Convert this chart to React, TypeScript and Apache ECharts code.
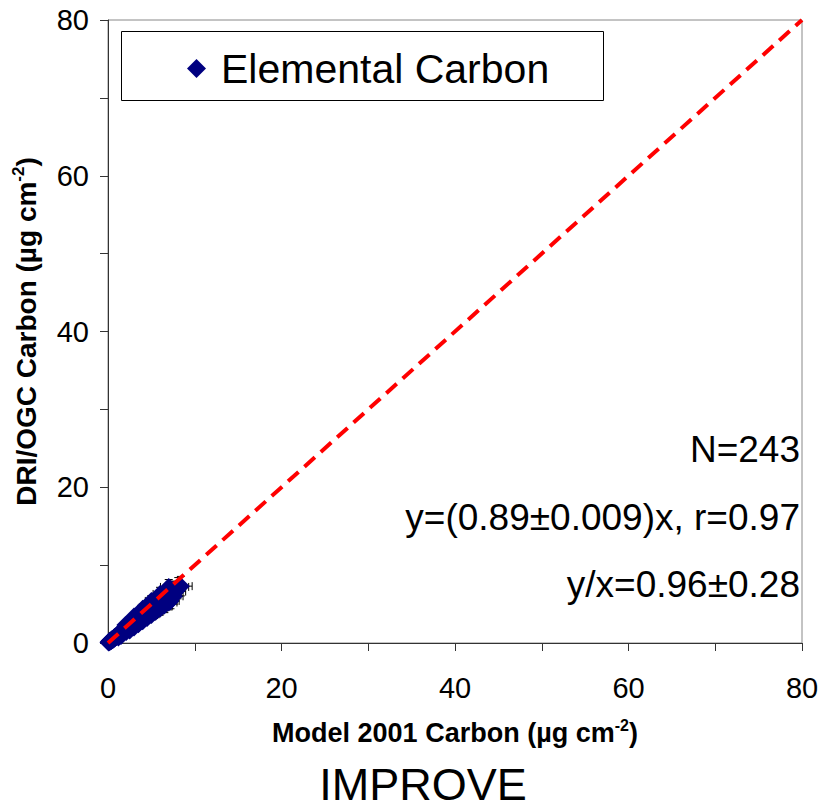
import React, { useEffect, useRef } from "react";
import * as echarts from "echarts";

const seriesName = "Elemental Carbon";
const xTitle = "Model 2001 Carbon (µg cm";
const yTitle = "DRI/OGC Carbon (µg cm";
const bottomTitle = "IMPROVE";
const statLines = ["N=243", "y=(0.89±0.009)x, r=0.97", "y/x=0.96±0.28"];
const oneToOne = [0, 80];

const ecX = [
  0.05, 0.1, 0.15, 0.2, 0.2, 0.25, 0.3, 0.35, 0.4, 0.4,
  0.45, 0.5, 0.55, 0.6, 0.6, 0.7, 0.75, 0.8, 0.85, 0.9,
  1.0, 1.0, 1.1, 1.15, 1.2, 1.3, 1.35, 1.4, 1.5, 1.55,
  1.6, 1.7, 1.8, 1.85, 1.9, 2.0, 2.1, 2.2, 2.3, 2.35,
  2.4, 2.5, 2.6, 2.7, 2.8, 2.9, 3.0, 3.1, 3.2, 3.3,
  3.4, 3.5, 3.6, 3.7, 3.8, 3.9, 4.0, 4.1, 4.3, 4.4,
  4.5, 4.6, 4.8, 4.9, 5.0, 5.2, 5.3, 5.5, 5.6, 5.8,
  5.9, 6.1, 6.2, 6.4, 6.6, 6.8, 7.0, 7.3, 7.5, 7.8, 8.1, 8.4,
  1.2, 2.1, 2.9, 3.6, 4.2, 4.7, 5.4, 6.0, 6.9, 7.6,
  1.5, 2.5, 3.0, 3.5, 4.0, 4.5, 5.0, 5.5, 6.0, 6.5, 7.0, 7.2,
  2.0, 3.0, 4.0, 5.0, 6.0, 7.0,
];
const ecY = [
  0.1, 0.05, 0.2, 0.15, 0.3, 0.2, 0.3, 0.25, 0.45, 0.3,
  0.4, 0.5, 0.4, 0.55, 0.45, 0.7, 0.55, 0.8, 0.7, 0.75,
  1.0, 0.8, 1.1, 0.9, 1.2, 1.1, 1.3, 1.05, 1.4, 1.25,
  1.5, 1.4, 1.7, 1.45, 1.8, 1.7, 1.9, 2.1, 1.9, 2.4,
  2.0, 2.3, 2.6, 2.2, 2.5, 2.8, 2.4, 2.9, 2.6, 3.2,
  2.8, 3.3, 3.0, 3.5, 3.2, 3.7, 3.3, 3.9, 3.6, 4.2,
  3.8, 4.4, 4.0, 4.7, 4.3, 4.5, 5.0, 4.6, 5.3, 4.9,
  5.5, 5.2, 5.9, 5.4, 6.1, 5.8, 6.4, 6.1, 6.8, 6.6, 7.2, 7.3,
  0.7, 1.4, 2.1, 2.6, 3.1, 3.5, 4.1, 4.6, 5.5, 6.0,
  0.9, 1.6, 2.0, 2.4, 2.8, 3.2, 3.6, 4.0, 4.4, 4.8, 5.2, 5.4,
  2.3, 3.4, 4.4, 5.4, 6.3, 7.2,
];
const ecXErr = [
  0.1, 0.1, 0.1, 0.1, 0.1, 0.1, 0.1, 0.1, 0.1, 0.1,
  0.1, 0.1, 0.1, 0.15, 0.1, 0.15, 0.1, 0.15, 0.1, 0.15,
  0.2, 0.15, 0.2, 0.15, 0.2, 0.2, 0.2, 0.2, 0.25, 0.2,
  0.25, 0.25, 0.3, 0.25, 0.3, 0.3, 0.3, 0.35, 0.3, 0.35,
  0.35, 0.4, 0.4, 0.35, 0.4, 0.45, 0.4, 0.45, 0.45, 0.5,
  0.5, 0.5, 0.55, 0.5, 0.55, 0.6, 0.6, 0.6, 0.65, 0.6,
  0.7, 0.65, 0.7, 0.7, 0.75, 0.8, 0.75, 0.8, 0.85, 0.8,
  0.9, 0.9, 0.95, 0.9, 1.0, 1.0, 1.05, 1.1, 1.1, 1.15, 1.2, 1.3,
  0.2, 0.3, 0.4, 0.5, 0.6, 0.65, 0.75, 0.8, 0.95, 1.05,
  0.2, 0.35, 0.4, 0.5, 0.55, 0.6, 0.7, 0.75, 0.8, 0.9, 0.95, 1.0,
  0.3, 0.4, 0.55, 0.7, 0.8, 0.95,
];
const ecYErr = [
  0.1, 0.1, 0.1, 0.1, 0.1, 0.1, 0.1, 0.1, 0.1, 0.1,
  0.1, 0.1, 0.1, 0.1, 0.1, 0.15, 0.1, 0.15, 0.1, 0.15,
  0.15, 0.15, 0.2, 0.15, 0.2, 0.2, 0.2, 0.2, 0.2, 0.2,
  0.25, 0.25, 0.25, 0.25, 0.3, 0.3, 0.3, 0.3, 0.3, 0.35,
  0.35, 0.35, 0.4, 0.35, 0.4, 0.4, 0.4, 0.45, 0.45, 0.5,
  0.5, 0.5, 0.5, 0.55, 0.5, 0.55, 0.6, 0.6, 0.6, 0.65,
  0.7, 0.7, 0.75, 0.7, 0.8, 0.8, 0.8, 0.9, 0.85, 0.9,
  0.95, 0.9, 1.0, 1.0, 1.05, 1.0, 1.1, 1.1, 1.15, 1.2, 1.2, 1.25,
  0.15, 0.25, 0.35, 0.45, 0.5, 0.6, 0.7, 0.75, 0.9, 1.0,
  0.15, 0.3, 0.35, 0.45, 0.5, 0.6, 0.65, 0.75, 0.8, 0.9, 0.95, 1.0,
  0.3, 0.45, 0.6, 0.7, 0.85, 0.95,
];

const FONT = '"Liberation Sans", Arial, Helvetica, sans-serif';

export default function App() {
  const ref = useRef<HTMLDivElement>(null);
  useEffect(() => {
    if (!ref.current) return;
    const chart = echarts.init(ref.current, null, { renderer: "svg" });
    const points = ecX.map((x, i) => [x, ecY[i]]);
    const errs = ecX.map((x, i) => [x, ecY[i], ecXErr[i], ecYErr[i]]);
    const line = oneToOne.map((v) => [v, v]);

    const tickFmt = (v: number) => (v % 20 === 0 ? String(v) : "");
    const nameRich = (size: number) => ({
      a: { fontSize: size, fontWeight: "bold", fontFamily: FONT, color: "#000", lineHeight: size + 4 },
      s: { fontSize: Math.round(size * 0.6), fontWeight: "bold", fontFamily: FONT, color: "#000", verticalAlign: "top", lineHeight: size + 4 },
    });

    chart.setOption({
      animation: false,
      backgroundColor: "#fff",
      grid: {
        left: 108,
        right: 21,
        top: 20,
        bottom: 166,
        show: true,
        borderColor: "#888",
        borderWidth: 1,
        backgroundColor: "transparent",
      },
      legend: {
        data: [seriesName],
        left: 182,
        top: 43,
        icon: "diamond",
        itemWidth: 19,
        itemHeight: 19,
        itemStyle: { color: "#000080", opacity: 1 },
        textStyle: { fontSize: 41, fontFamily: FONT, color: "#000", padding: [0, 0, 0, 10] },
      },
      xAxis: {
        type: "value",
        min: 0,
        max: 80,
        interval: 10,
        name: `{a|${xTitle}}{s|-2}{a|)}`,
        nameLocation: "middle",
        nameGap: 74,
        nameTextStyle: { rich: nameRich(27) },
        axisLine: { show: true, lineStyle: { color: "#333", width: 1 } },
        axisTick: { show: true, inside: false, length: 8, lineStyle: { color: "#333" } },
        axisLabel: { formatter: tickFmt, fontSize: 29, fontFamily: FONT, color: "#000", margin: 30 },
        splitLine: { show: false },
      },
      yAxis: {
        type: "value",
        min: 0,
        max: 80,
        interval: 10,
        name: `{a|${yTitle}}{s|-2}{a|)}`,
        nameLocation: "middle",
        nameRotate: 90,
        nameGap: 66,
        nameTextStyle: { rich: nameRich(28) },
        axisLine: { show: true, lineStyle: { color: "#333", width: 1 } },
        axisTick: { show: true, inside: false, length: 8, lineStyle: { color: "#333" } },
        axisLabel: { formatter: tickFmt, fontSize: 29, fontFamily: FONT, color: "#000", margin: 19 },
        splitLine: { show: false },
      },
      graphic: [
        {
          type: "rect",
          left: 121,
          top: 31,
          shape: { width: 482, height: 69 },
          style: { fill: "transparent", stroke: "#000", lineWidth: 1 },
          z: 0,
        },
        ...statLines.map((t, i) => ({
          type: "text",
          x: 800,
          y: [449, 517, 584][i],
          style: {
            text: t,
            fill: "#000",
            font: `37px ${FONT}`,
            align: "right",
            textAlign: "right",
            verticalAlign: "middle",
            textVerticalAlign: "middle",
          },
        })),
        {
          type: "text",
          x: 423,
          y: 784,
          style: {
            text: bottomTitle,
            fill: "#000",
            font: `45px ${FONT}`,
            align: "center",
            textAlign: "center",
            verticalAlign: "middle",
            textVerticalAlign: "middle",
          },
        },
      ],
      series: [
        {
          type: "custom",
          name: "errors",
          z: 1,
          encode: { x: 0, y: 1 },
          data: errs,
          renderItem: (_p: any, api: any) => {
            const x = api.value(0);
            const y = api.value(1);
            const xe = api.value(2);
            const ye = api.value(3);
            const l = api.coord([x - xe, y]);
            const r = api.coord([x + xe, y]);
            const b = api.coord([x, y - ye]);
            const t = api.coord([x, y + ye]);
            const c = 4;
            const st = { stroke: "#000", lineWidth: 1 };
            return {
              type: "group",
              children: [
                { type: "line", shape: { x1: l[0], y1: l[1], x2: r[0], y2: r[1] }, style: st },
                { type: "line", shape: { x1: l[0], y1: l[1] - c, x2: l[0], y2: l[1] + c }, style: st },
                { type: "line", shape: { x1: r[0], y1: r[1] - c, x2: r[0], y2: r[1] + c }, style: st },
                { type: "line", shape: { x1: b[0], y1: b[1], x2: t[0], y2: t[1] }, style: st },
                { type: "line", shape: { x1: b[0] - c, y1: b[1], x2: b[0] + c, y2: b[1] }, style: st },
                { type: "line", shape: { x1: t[0] - c, y1: t[1], x2: t[0] + c, y2: t[1] }, style: st },
              ],
            };
          },
        },
        {
          type: "scatter",
          name: seriesName,
          z: 2,
          symbol: "diamond",
          symbolSize: 18,
          itemStyle: { color: "#000080", opacity: 1 },
          data: points,
        },
        {
          type: "line",
          name: "1:1",
          z: 3,
          symbol: "none",
          data: line,
          lineStyle: { color: "#ff0000", width: 4, type: [14, 8] },
        },
      ],
    });
    return () => chart.dispose();
  }, []);
  return (
    <div
      ref={ref}
      style={{ position: "fixed", left: 0, top: 0, width: 823, height: 809, background: "#fff" }}
    />
  );
}
